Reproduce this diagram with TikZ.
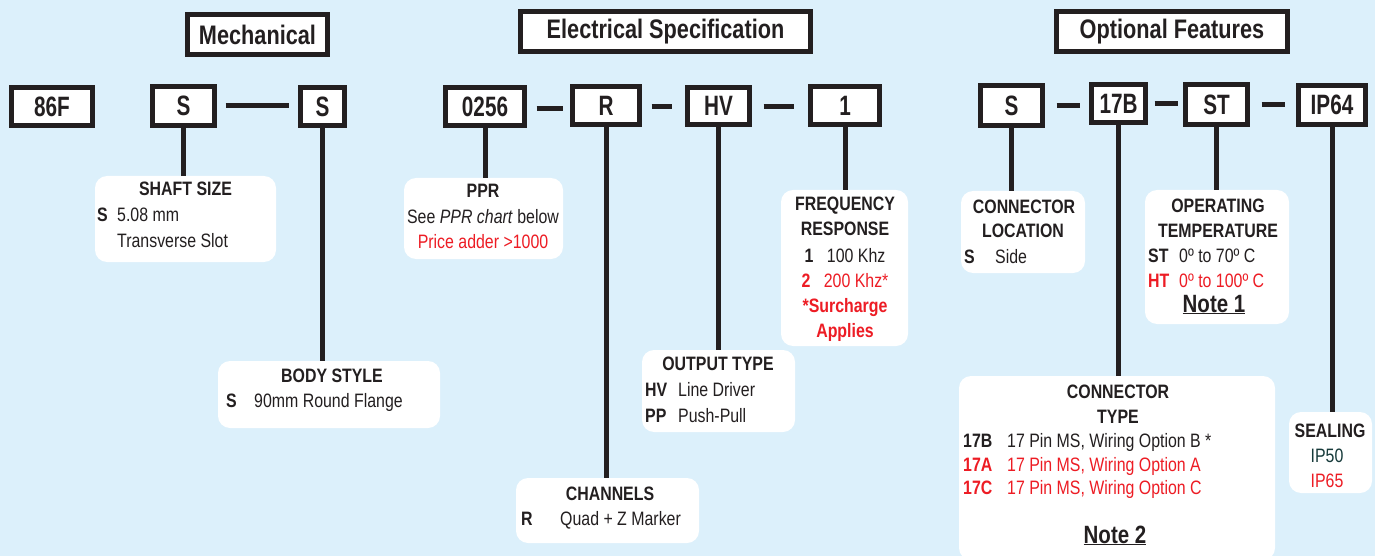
\documentclass[tikz,border=0pt]{standalone}
\usepackage{fontspec}
\setmainfont{Liberation Sans}[FakeStretch=0.82]
\newfontfamily\codefont{Liberation Sans}[FakeStretch=0.74]
\newfontfamily\headfont{Liberation Sans}[FakeStretch=0.81]
\usetikzlibrary{positioning}
\definecolor{bgblue}{RGB}{220,240,251}
\definecolor{ink}{RGB}{35,31,32}
\definecolor{optred}{RGB}{237,28,36}
\definecolor{sealgreen}{RGB}{22,58,58}
\tikzset{
  headbox/.style={draw, line width=5pt, fill=white, inner sep=0pt, minimum height=40pt, font=\headfont\fontsize{26.8}{30}\selectfont\bfseries},
  codebox/.style={draw, line width=5pt, fill=white, inner sep=0pt, font=\codefont\fontsize{28}{30}\selectfont\bfseries},
  infobox/.style={fill=white, rounded corners=12pt, inner sep=0pt},
  link/.style={line width=5pt},
  txt/.style={inner sep=0pt, anchor=base, font=\fontsize{19.4}{25}\selectfont},
  txtl/.style={txt, anchor=base west},
  ttl/.style={txt, font=\fontsize{19.4}{25}\selectfont\bfseries},
  note/.style={txt, font=\fontsize{25}{30}\selectfont\bfseries},
}
\begin{document}
\begin{tikzpicture}[x=1pt, y=-1pt, color=ink]
        \fill[bgblue] (0,0) rectangle (1375,556);
        \useasboundingbox (0,0) rectangle (1375,556);
        %Headers
        \node[headbox, minimum width=140pt] (mech) at (257.5,34.5) {Mechanical};
        \node[headbox, minimum width=290pt] (elec) at (665.5,31.5) {Electrical Specification};
        \node[headbox, minimum width=231pt] (opt) at (1172,31.5) {Optional Features};
        %Code boxes
        \node[codebox, minimum width=81pt, minimum height=38pt] (c86F) at (52,106.5) {86F};
        \node[codebox, minimum width=62pt, minimum height=39pt] (cShaft) at (183.5,106) {S};
        \node[codebox, minimum width=44pt, minimum height=38pt] (cBody) at (322.5,106.5) {S};
        \node[codebox, minimum width=79pt, minimum height=38pt] (cPPR) at (485,106.5) {0256};
        \node[codebox, minimum width=67pt, minimum height=38pt] (cChan) at (606,105.5) {R};
        \node[codebox, minimum width=62pt, minimum height=37pt] (cOut) at (718.5,106) {HV};
        \node[codebox, minimum width=69pt, minimum height=38pt] (cFreq) at (845,105.5) {1};
        \node[codebox, minimum width=62pt, minimum height=40pt] (cLoc) at (1011.5,105.5) {S};
        \node[codebox, minimum width=54pt, minimum height=38pt] (cType) at (1118.5,103.5) {17B};
        \node[codebox, minimum width=62pt, minimum height=40pt] (cTemp) at (1216.5,104.5) {ST};
        \node[codebox, minimum width=67pt, minimum height=39pt] (cSeal) at (1332,105) {IP64};
        %Dashes
        \draw[link, shorten <=8.5pt, shorten >=9.5pt] (cShaft.east) -- (cShaft.east -| cBody.west);
        \draw[link, shorten <=9.5pt, shorten >=7.5pt] ([yshift=-2pt]cPPR.east) -- ([yshift=-2pt]cPPR.east -| cChan.west);
        \draw[link, shorten <=9.5pt, shorten >=13.5pt] ([yshift=-1.5pt]cChan.east) -- ([yshift=-1.5pt]cChan.east -| cOut.west);
        \draw[link, shorten <=11.5pt, shorten >=14.5pt] ([yshift=-0.5pt]cOut.east) -- ([yshift=-0.5pt]cOut.east -| cFreq.west);
        \draw[link, shorten <=11.5pt, shorten >=9.5pt] (cLoc.east) -- (cLoc.east -| cType.west);
        \draw[link, shorten <=6.5pt, shorten >=5.5pt] (cType.east) -- (cType.east -| cTemp.west);
        \draw[link, shorten <=11.5pt, shorten >=11.5pt] (cTemp.east) -- (cTemp.east -| cSeal.west);
        %Info boxes
        \node[infobox, minimum width=181pt, minimum height=86pt] (shaft) at (185.5,219) {};
        \node[infobox, minimum width=222pt, minimum height=67pt] (body) at (329,394.5) {};
        \node[infobox, minimum width=159pt, minimum height=81pt] (ppr) at (483.5,218.5) {};
        \node[infobox, minimum width=127pt, minimum height=156pt] (freq) at (844.5,268) {};
        \node[infobox, minimum width=153pt, minimum height=82pt] (out) at (718.5,391) {};
        \node[infobox, minimum width=183pt, minimum height=65pt] (chan) at (607.5,510.5) {};
        \node[infobox, minimum width=124pt, minimum height=82pt] (loc) at (1023,232) {};
        \node[infobox, minimum width=144pt, minimum height=134pt] (temp) at (1217,257) {};
        \node[infobox, minimum width=316pt, minimum height=184pt] (type) at (1117,468) {};
        \node[infobox, minimum width=83pt, minimum height=81pt] (seal) at (1330.5,452.5) {};
        %Stems
        \draw[link] (cShaft.south) -- (cShaft.south |- shaft.north);
        \draw[link] (cBody.south) -- (cBody.south |- body.north);
        \draw[link] (cPPR.south) -- (cPPR.south |- ppr.north);
        \draw[link] (cChan.south) -- (cChan.south |- chan.north);
        \draw[link] (cOut.south) -- (cOut.south |- out.north);
        \draw[link] (cFreq.south) -- (cFreq.south |- freq.north);
        \draw[link] (cLoc.south) -- (cLoc.south |- loc.north);
        \draw[link] (cType.south) -- (cType.south |- type.north);
        \draw[link] (cTemp.south) -- (cTemp.south |- temp.north);
        \draw[link] (cSeal.south) -- (cSeal.south |- seal.north);
        %Shaft size
        \node[ttl] (shaftT) at (185.5,196) {SHAFT SIZE};
        \node[txtl] (shaftK) at (97,222) {\bfseries S};
        \node[txtl] (shaftA) at (117,222) {5.08 mm};
        \node[txtl] (shaftB) at (117,247) {Transverse Slot};
        %Body style
        \node[ttl] (bodyT) at (332,382) {BODY STYLE};
        \node[txtl] (bodyK) at (226,407) {\bfseries S};
        \node[txtl] (bodyA) at (254,407) {90mm Round Flange};
        %PPR
        \node[ttl] (pprT) at (483,197) {PPR};
        \node[txt] (pprA) at (483,223) {See \textit{PPR chart} below};
        \node[txt, text=optred] (pprB) at (483,248) {Price adder >1000};
        %Frequency response
        \node[ttl] (freqT) at (845,211) {FREQUENCY};
        \node[ttl] (freqU) at (845,235) {RESPONSE};
        \node[txt] (freqA) at (845,262) {\textbf{1}\hspace{9pt} 100 Khz};
        \node[txt, text=optred] (freqB) at (845,287) {\textbf{2}\hspace{9pt} 200 Khz*};
        \node[ttl, text=optred] (freqC) at (845,312) {*Surcharge};
        \node[ttl, text=optred] (freqD) at (845,337) {Applies};
        %Output type
        \node[ttl] (outT) at (718,370) {OUTPUT TYPE};
        \node[txtl] (outK) at (645,396) {\bfseries HV};
        \node[txtl] (outA) at (678,396) {Line Driver};
        \node[txtl] (outL) at (645,422) {\bfseries PP};
        \node[txtl] (outB) at (678,422) {Push-Pull};
        %Channels
        \node[ttl] (chanT) at (610,500) {CHANNELS};
        \node[txtl] (chanK) at (521,525) {\bfseries R};
        \node[txtl] (chanA) at (560,525) {Quad + Z Marker};
        %Connector location
        \node[ttl] (locT) at (1024,213) {CONNECTOR};
        \node[ttl] (locU) at (1023,237) {LOCATION};
        \node[txtl] (locK) at (964,263) {\bfseries S};
        \node[txtl] (locA) at (995,263) {Side};
        %Operating temperature
        \node[ttl] (tempT) at (1218,212) {OPERATING};
        \node[ttl] (tempU) at (1218,237) {TEMPERATURE};
        \node[txtl] (tempK) at (1148,262) {\bfseries ST};
        \node[txtl] (tempA) at (1179,262) {0º to 70º C};
        \node[txtl, text=optred] (tempL) at (1148,287) {\bfseries HT};
        \node[txtl, text=optred] (tempB) at (1179,287) {0º to 100º C};
        \node[note] (tempN) at (1214,312) {\underline{Note 1}};
        %Connector type
        \node[ttl] (typeT) at (1118,398) {CONNECTOR};
        \node[ttl] (typeU) at (1118,423) {TYPE};
        \node[txtl] (typeK) at (963,447) {\bfseries 17B};
        \node[txtl] (typeA) at (1007,447) {17 Pin MS, Wiring Option B *};
        \node[txtl, text=optred] (typeL) at (963,471) {\bfseries 17A};
        \node[txtl, text=optred] (typeB) at (1007,471) {17 Pin MS, Wiring Option A};
        \node[txtl, text=optred] (typeM) at (963,494) {\bfseries 17C};
        \node[txtl, text=optred] (typeC) at (1007,494) {17 Pin MS, Wiring Option C};
        \node[note] (typeN) at (1115,543) {\underline{Note 2}};
        %Sealing
        \node[ttl] (sealT) at (1330,437) {SEALING};
        \node[txt, text=sealgreen] (sealA) at (1327,462) {IP50};
        \node[txt, text=optred] (sealB) at (1327,487) {IP65};
\end{tikzpicture}
\end{document}
